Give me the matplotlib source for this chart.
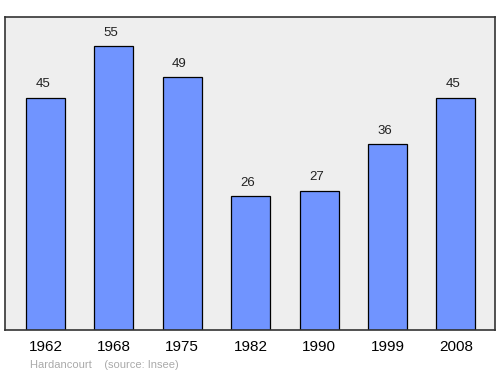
import matplotlib
matplotlib.use("Agg")
import matplotlib.pyplot as plt

years = ["1962", "1968", "1975", "1982", "1990", "1999", "2008"]
population = [45, 55, 49, 26, 27, 36, 45]

plt.rcParams["font.family"] = ["Liberation Sans", "DejaVu Sans"]

fig = plt.figure(figsize=(5, 3.74), dpi=100)
ax = fig.add_axes([5 / 500, 1 - 330 / 374, 490 / 500, 313 / 374])
ax.set_facecolor("#eeeeee")

pos = list(range(len(years)))
ax.bar(pos, population, width=0.57, color="#7094ff", edgecolor="black", linewidth=0.9)
for x, v in zip(pos, population):
    ax.annotate(str(v), (x, v), xytext=(-2, 9.5), textcoords="offset points",
                ha="center", va="center", fontsize=9.5, color="#222222")

ax.set_xlim(-0.59, 6.57)
ax.set_ylim(0, 60.6)
ax.set_xticks(pos)
ax.set_xticklabels(years, fontsize=11)
ax.tick_params(axis="x", length=0, pad=7.5)
ax.set_yticks([])
for s in ax.spines.values():
    s.set_color("#333333")
    s.set_linewidth(1.2)

fig.text(30 / 500, 1 - 365 / 374, "Hardancourt    (source: Insee)", fontsize=8,
         color="#aaaaaa", va="center")

plt.savefig("out.png", dpi=100)
